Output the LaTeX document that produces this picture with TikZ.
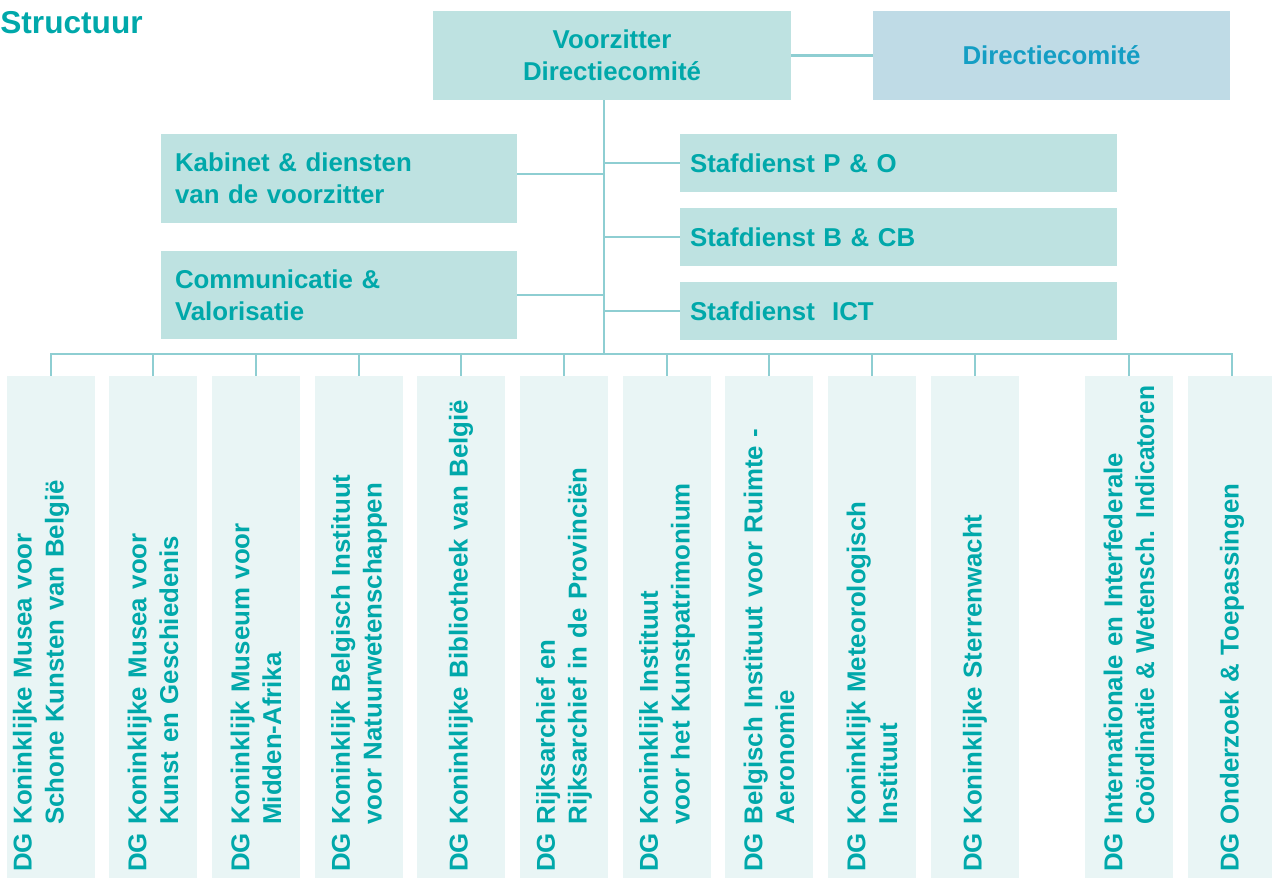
\documentclass[tikz,border=0pt]{standalone}
\usepackage{fontspec}
\setmainfont{Liberation Sans}
\usepackage{tikz}
\definecolor{teal0}{RGB}{0,168,170}
\definecolor{blue0}{RGB}{20,158,196}
\definecolor{boxfill}{RGB}{190,226,225}
\definecolor{dcfill}{RGB}{191,219,230}
\definecolor{dgfill}{RGB}{233,245,245}
\definecolor{linkcol}{RGB}{142,206,210}
\usetikzlibrary{calc, positioning}
\newcommand\boxfont{\fontsize{14.7}{18.1}\selectfont\bfseries}
\tikzset{basic/.style={fill=boxfill,text=teal0,font=\boxfont,inner sep=0pt}}
\tikzset{head/.style={basic,minimum width=7.16cm,minimum height=1.78cm,align=center}}
\tikzset{side/.style={basic,minimum width=7.12cm,minimum height=1.78cm,inner xsep=0.28cm,text width=6.56cm,align=left}}
\tikzset{staf/.style={basic,minimum width=8.74cm,minimum height=1.16cm,inner xsep=0.2cm,text width=8.34cm,align=left}}
\tikzset{dg/.style={basic,fill=dgfill,rotate=90,minimum width=10.04cm,minimum height=1.76cm,inner xsep=0.12cm,text width=9.8cm,align=left}}
\tikzset{link/.style={draw=linkcol,line width=1.5pt}}
\newcommand\hang{\hphantom{DG\ }}
\newcommand\lift[1]{\raisebox{0.2cm}[\height][\depth]{#1}}
\newcommand\narrow[1]{\mbox{\addfontfeatures{FakeStretch=0.95}#1}}

\begin{document}
\begin{tikzpicture}[x=0.02cm,y=-0.02cm]
\useasboundingbox (0,0) rectangle (1272,879);

% Title
\node[anchor=base west,inner sep=0pt,text=teal0,font=\fontsize{18}{20}\selectfont\bfseries] (title) at (0,33) {Structuur};

% Define top units
\node[head] (vz) at (612,55.5) {Voorzitter\\Directiecomité};
\node[head,fill=dcfill,text=blue0,minimum width=7.14cm] (dc) at (1051.5,55.5) {Directiecomité};

% Define side units
\node[side] (kab) at (339,178.5) {Kabinet \& diensten\\van de voorzitter};
\node[side] (com) at (339,295) {Communicatie \&\\Valorisatie};
\node[staf] (po) at (898.5,163) {Stafdienst P \& O};
\node[staf] (bcb) at (898.5,237) {Stafdienst B \& CB};
\node[staf] (ict) at (898.5,311) {Stafdienst\ \ ICT};

% Define DG units
\node[dg] (dg1) at (51,627) {\lift{DG Koninklijke Musea voor}\\\lift{\hang Schone Kunsten van België}};
\node[dg] (dg2) at (153,627) {DG Koninklijke Musea voor\\\hang Kunst en Geschiedenis};
\node[dg] (dg3) at (256,627) {DG Koninklijk Museum voor\\\hang Midden-Afrika};
\node[dg] (dg4) at (359,627) {DG Koninklijk Belgisch Instituut\\\hang voor Natuurwetenschappen};
\node[dg] (dg5) at (461,627) {DG Koninklijke Bibliotheek van België};
\node[dg] (dg6) at (564,627) {DG Rijksarchief en\\\hang Rijksarchief in de Provinciën};
\node[dg] (dg7) at (667,627) {DG Koninklijk Instituut\\\hang voor het Kunstpatrimonium};
\node[dg] (dg8) at (769,627) {DG Belgisch Instituut voor Ruimte -\\\hang Aeronomie};
\node[dg] (dg9) at (872,627) {DG Koninklijk Meteorologisch\\\hang Instituut};
\node[dg] (dg10) at (975,627) {DG Koninklijke Sterrenwacht};
\node[dg] (dg11) at (1129,627) {DG Internationale en Interfederale\\\hang\narrow{Coördinatie \& Wetensch. Indicatoren}};
\node[dg] (dg12) at (1232,627) {DG Onderzoek \& Toepassingen};

% Define paths
\coordinate (bus) at (604,354);
\path[link] (vz) -- (dc);
\path[link] (vz.south -| bus) -- (bus);
\path[link] ([yshift=0.09cm]kab.east) -- ([yshift=0.09cm]kab.east -| bus);
\path[link] (com.east) -- (com.east -| bus);
\path[link] (po.west) -- (po.west -| bus);
\path[link] (bcb.west) -- (bcb.west -| bus);
\path[link] (ict.west) -- (ict.west -| bus);

\path[link] (dg1.east) -- (dg1.east |- bus) -- (dg12.east |- bus) -- (dg12.east);
\foreach \i in {2,...,11}
  \path[link] (dg\i.east) -- (dg\i.east |- bus);
\end{tikzpicture}
\end{document}
